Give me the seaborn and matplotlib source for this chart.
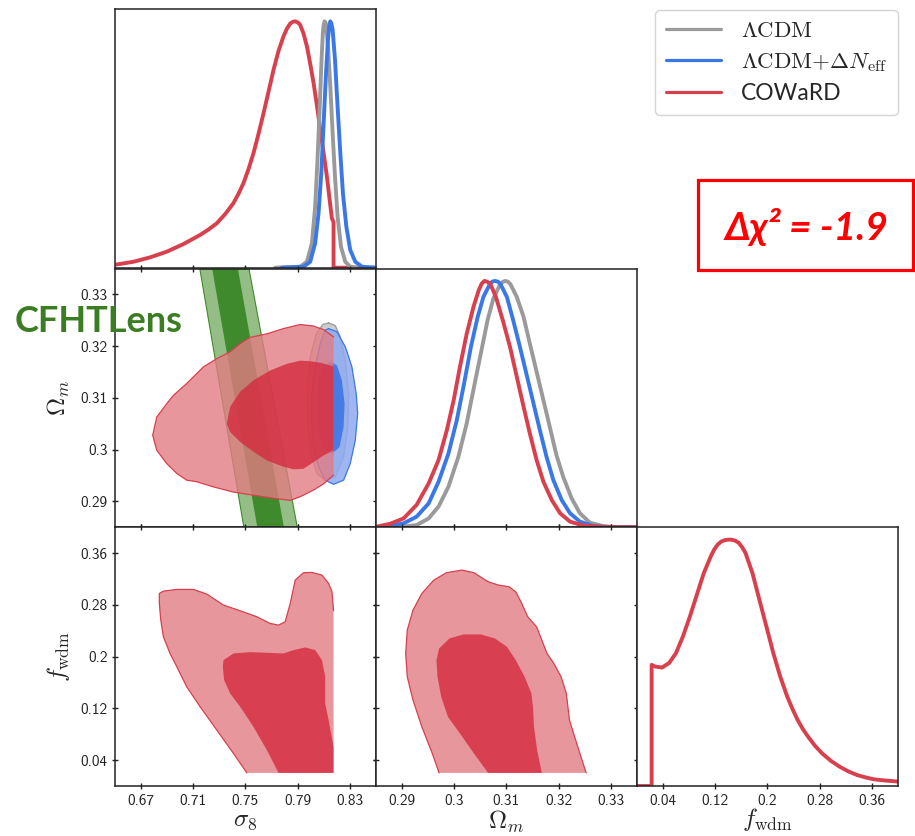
import matplotlib
matplotlib.use("Agg")
import matplotlib.pyplot as plt
import seaborn as sns
from matplotlib.lines import Line2D
from matplotlib.patches import Rectangle

sns.set_theme(style="white")
plt.rcParams["mathtext.fontset"] = "cm"
plt.rcParams["font.family"] = ["Lato", "DejaVu Sans"]
plt.rcParams["axes.edgecolor"] = "#222222"
plt.rcParams["axes.linewidth"] = 1.1

# ---------------------------------------------------------------- models
LEGEND_LABELS = [r"$\Lambda{\rm CDM}$",
                 r"$\Lambda{\rm CDM}{+}\Delta N_{\rm eff}$",
                 "COWaRD"]
C_LCDM = "#9a9a9a"
C_NEFF = "#3a78e8"
C_COWARD = "#d8404e"

# ---------------------------------------------------------------- axes ranges / ticks
S8_RANGE = (0.65, 0.85)
OM_RANGE = (0.285, 0.335)
FW_RANGE = (0.0, 0.40)
S8_TICKS = [0.67, 0.71, 0.75, 0.79, 0.83]
OM_TICKS = [0.29, 0.30, 0.31, 0.32, 0.33]
FW_TICKS = [0.04, 0.12, 0.20, 0.28, 0.36]
S8_TICKLABELS = ["0.67", "0.71", "0.75", "0.79", "0.83"]
OM_TICKLABELS = ["0.29", "0.3", "0.31", "0.32", "0.33"]
FW_TICKLABELS = ["0.04", "0.12", "0.2", "0.28", "0.36"]

# prior edges of the COWaRD chain
S8_PRIOR_MAX = 0.8176
FW_PRIOR_MIN = 0.0203

# ---------------------------------------------------------------- 1D marginals
# sigma_8
S8_LCDM = [0.7728, 0.7920, 0.7972, 0.8010, 0.8035, 0.8053, 0.8069, 0.8084, 0.8094,
           0.8100, 0.8107, 0.8114, 0.8120, 0.8135, 0.8151, 0.8169, 0.8187, 0.8207,
           0.8233, 0.8266, 0.8304, 0.8356]
P_S8_LCDM = [0.0, 0.004, 0.024, 0.099, 0.248, 0.438, 0.641, 0.844, 0.953,
             0.985, 1.0, 0.995, 0.986, 0.886, 0.736, 0.547, 0.370, 0.207,
             0.085, 0.024, 0.004, 0.0]
S8_NEFF = [0.7780, 0.7946, 0.7997, 0.8035, 0.8061, 0.8082, 0.8099, 0.8117, 0.8133,
           0.8142, 0.8151, 0.8160, 0.8169, 0.8187, 0.8207, 0.8228, 0.8248, 0.8274,
           0.8304, 0.8343, 0.8394, 0.8496]
P_S8_NEFF = [0.0, 0.004, 0.024, 0.099, 0.221, 0.384, 0.575, 0.776, 0.925,
             0.975, 1.0, 0.99, 0.966, 0.846, 0.654, 0.465, 0.302, 0.167,
             0.072, 0.024, 0.004, 0.0]
S8_COWARD = [0.6500, 0.6641, 0.6769, 0.6897, 0.7025, 0.7153, 0.7217, 0.7280, 0.7344,
             0.7408, 0.7447, 0.7485, 0.7524, 0.7562, 0.7600, 0.7639, 0.7678, 0.7716,
             0.7754, 0.7792, 0.7818, 0.7844, 0.7863, 0.7882, 0.7901, 0.7920, 0.7946,
             0.7972, 0.7997, 0.8023, 0.8049, 0.8074, 0.8100, 0.8125, 0.8144, 0.8163,
             0.8176, 0.8176, 0.8500]
P_S8_COWARD = [0.012, 0.024, 0.042, 0.065, 0.096, 0.133, 0.155, 0.180, 0.217,
               0.262, 0.300, 0.343, 0.400, 0.465, 0.542, 0.627, 0.716, 0.804,
               0.880, 0.939, 0.970, 0.991, 0.998, 1.0, 0.996, 0.986, 0.950,
               0.898, 0.828, 0.749, 0.656, 0.560, 0.465, 0.370, 0.285, 0.201,
               0.185, 0.0, 0.0]

# Omega_m
OM_LCDM = [0.2903, 0.2928, 0.2951, 0.2970, 0.2989, 0.3008, 0.3024, 0.3038, 0.3051,
           0.3064, 0.3075, 0.3087, 0.3093, 0.3098, 0.3103, 0.3108, 0.3120, 0.3133,
           0.3145, 0.3158, 0.3171, 0.3184, 0.3196, 0.3209, 0.3225, 0.3241, 0.3260,
           0.3286, 0.3318, 0.3350]
P_OM_LCDM = [0.003, 0.009, 0.036, 0.084, 0.165, 0.286, 0.422, 0.570, 0.705,
             0.841, 0.928, 0.982, 0.996, 1.0, 0.997, 0.986, 0.935, 0.854,
             0.746, 0.631, 0.516, 0.401, 0.293, 0.205, 0.118, 0.057, 0.019,
             0.004, 0.0, 0.0]
OM_NEFF = [0.2871, 0.2903, 0.2928, 0.2951, 0.2970, 0.2989, 0.3005, 0.3019, 0.3032,
           0.3045, 0.3056, 0.3068, 0.3073, 0.3078, 0.3084, 0.3089, 0.3101, 0.3113,
           0.3126, 0.3139, 0.3152, 0.3165, 0.3177, 0.3190, 0.3206, 0.3222, 0.3241,
           0.3267, 0.3299, 0.3350]
P_OM_NEFF = [0.003, 0.016, 0.043, 0.097, 0.185, 0.300, 0.435, 0.584, 0.732,
             0.854, 0.935, 0.986, 0.997, 1.0, 0.997, 0.986, 0.935, 0.841,
             0.732, 0.618, 0.503, 0.388, 0.286, 0.192, 0.111, 0.057, 0.023,
             0.005, 0.001, 0.0]
OM_COWARD = [0.2852, 0.2877, 0.2903, 0.2928, 0.2951, 0.2970, 0.2986, 0.2999, 0.3011,
             0.3024, 0.3037, 0.3047, 0.3053, 0.3058, 0.3063, 0.3069, 0.3080, 0.3094,
             0.3107, 0.3120, 0.3133, 0.3145, 0.3158, 0.3171, 0.3187, 0.3203, 0.3222,
             0.3247, 0.3286, 0.3350]
P_OM_COWARD = [0.003, 0.014, 0.036, 0.091, 0.178, 0.273, 0.395, 0.516, 0.651,
               0.786, 0.895, 0.962, 0.990, 1.0, 0.997, 0.989, 0.935, 0.834,
               0.732, 0.611, 0.489, 0.381, 0.273, 0.185, 0.111, 0.057, 0.023,
               0.007, 0.001, 0.0]

# f_wdm (COWaRD only)
FW_COWARD = [0.0, 0.0224, 0.0224, 0.0277, 0.0384, 0.0491, 0.0597, 0.0704, 0.0811,
             0.0917, 0.1024, 0.1131, 0.1184, 0.1237, 0.1291, 0.1344, 0.1398, 0.1451,
             0.1504, 0.1557, 0.1611, 0.1664, 0.1771, 0.1877, 0.1984, 0.2091, 0.2197,
             0.2304, 0.2384, 0.2464, 0.2544, 0.2624, 0.2731, 0.2837, 0.2970, 0.3104,
             0.3237, 0.3371, 0.3504, 0.3637, 0.3819, 0.4000]
P_FW_COWARD = [0.0, 0.0, 0.492, 0.485, 0.481, 0.499, 0.539, 0.607, 0.688,
               0.776, 0.864, 0.932, 0.960, 0.980, 0.992, 0.998, 1.0, 1.0,
               0.996, 0.988, 0.970, 0.946, 0.864, 0.756, 0.648, 0.539, 0.444,
               0.363, 0.313, 0.268, 0.231, 0.200, 0.163, 0.133, 0.103, 0.079,
               0.060, 0.045, 0.035, 0.027, 0.022, 0.018]

# ---------------------------------------------------------------- 2D contours (68% / 95%)
# sigma_8 - Omega_m
S8OM_LCDM_95_S8 = [0.8138, 0.8189, 0.8228, 0.8266, 0.8292, 0.8286, 0.8253, 0.8189,
                   0.8112, 0.8048, 0.8002, 0.7977, 0.7977, 0.7997, 0.8043, 0.8094]
S8OM_LCDM_95_OM = [0.3245, 0.3240, 0.3218, 0.3173, 0.3108, 0.3044, 0.2986, 0.2947,
                   0.2941, 0.2954, 0.2992, 0.3057, 0.3121, 0.3179, 0.3224, 0.3242]
S8OM_LCDM_68_S8 = [0.8125, 0.8176, 0.8215, 0.8228, 0.8215, 0.8176, 0.8125, 0.8074,
                   0.8043, 0.8036, 0.8048, 0.8079]
S8OM_LCDM_68_OM = [0.3179, 0.3173, 0.3141, 0.3089, 0.3038, 0.3005, 0.2996, 0.3009,
                   0.3050, 0.3096, 0.3141, 0.3170]
S8OM_NEFF_95_S8 = [0.8138, 0.8202, 0.8266, 0.8317, 0.8350, 0.8361, 0.8343, 0.8304,
                   0.8253, 0.8176, 0.8112, 0.8061, 0.8023, 0.8005, 0.8010, 0.8036,
                   0.8074, 0.8112]
S8OM_NEFF_95_OM = [0.3234, 0.3228, 0.3199, 0.3160, 0.3108, 0.3070, 0.3018, 0.2973,
                   0.2941, 0.2933, 0.2941, 0.2967, 0.3005, 0.3057, 0.3108, 0.3160,
                   0.3205, 0.3231]
S8OM_NEFF_68_S8 = [0.8151, 0.8202, 0.8240, 0.8261, 0.8253, 0.8222, 0.8164, 0.8100,
                   0.8061, 0.8048, 0.8061, 0.8100]
S8OM_NEFF_68_OM = [0.3170, 0.3163, 0.3134, 0.3089, 0.3044, 0.3005, 0.2992, 0.3005,
                   0.3044, 0.3089, 0.3131, 0.3160]
S8OM_COWARD_95_S8 = [0.8176, 0.8100, 0.8023, 0.7920, 0.7844, 0.7716, 0.7562, 0.7409,
                     0.7255, 0.7127, 0.7050, 0.6974, 0.6897, 0.6820, 0.6789, 0.6820,
                     0.6897, 0.6948, 0.7050, 0.7178, 0.7281, 0.7383, 0.7460, 0.7536,
                     0.7665, 0.7792, 0.7920, 0.8023, 0.8100, 0.8176]
S8OM_COWARD_95_OM = [0.2951, 0.2934, 0.2922, 0.2909, 0.2902, 0.2906, 0.2912, 0.2918,
                     0.2928, 0.2938, 0.2941, 0.2954, 0.2973, 0.2999, 0.3028, 0.3063,
                     0.3089, 0.3105, 0.3128, 0.3160, 0.3176, 0.3189, 0.3205, 0.3217,
                     0.3224, 0.3234, 0.3242, 0.3239, 0.3232, 0.3218]
S8OM_COWARD_68_S8 = [0.7357, 0.7383, 0.7460, 0.7562, 0.7690, 0.7818, 0.7920, 0.7997,
                     0.8074, 0.8176, 0.8176, 0.8100, 0.8023, 0.7946, 0.7869, 0.7792,
                     0.7665, 0.7562, 0.7460, 0.7383]
S8OM_COWARD_68_OM = [0.3050, 0.3083, 0.3112, 0.3134, 0.3153, 0.3166, 0.3172, 0.3171,
                     0.3168, 0.3161, 0.2999, 0.2989, 0.2976, 0.2963, 0.2962, 0.2967,
                     0.2979, 0.2996, 0.3015, 0.3034]

# CFHTLens lensing band (edges in sigma_8 at the two Omega_m ends)
BAND_OM = [0.285, 0.335]
BAND_95_LO = [0.7485, 0.7147]
BAND_95_HI = [0.7895, 0.7524]
BAND_68_LO = [0.7588, 0.7242]
BAND_68_HI = [0.7792, 0.7439]

# sigma_8 - f_wdm
S8FW_COWARD_95_S8 = [0.7511, 0.7409, 0.7281, 0.7153, 0.7050, 0.6974, 0.6922, 0.6871,
                     0.6851, 0.6840, 0.6840, 0.6871, 0.6974, 0.7101, 0.7204, 0.7332,
                     0.7460, 0.7588, 0.7690, 0.7754, 0.7805, 0.7844, 0.7882, 0.7946,
                     0.8010, 0.8087, 0.8138, 0.8164, 0.8176]
S8FW_COWARD_95_FW = [0.0203, 0.0502, 0.0864, 0.1225, 0.1534, 0.1844, 0.2050, 0.2308,
                     0.2566, 0.2824, 0.2978, 0.3014, 0.3040, 0.3040, 0.2968, 0.2798,
                     0.2710, 0.2617, 0.2514, 0.2488, 0.2540, 0.2824, 0.3185, 0.3298,
                     0.3303, 0.3262, 0.3133, 0.3004, 0.2710]
S8FW_COWARD_68_S8 = [0.7332, 0.7409, 0.7537, 0.7665, 0.7792, 0.7869, 0.7959, 0.8036,
                     0.8087, 0.8112, 0.8112, 0.8138, 0.8176, 0.8176, 0.7754, 0.7665,
                     0.7562, 0.7460, 0.7383, 0.7337, 0.7327]
S8FW_COWARD_68_FW = [0.1947, 0.2050, 0.2070, 0.2060, 0.2050, 0.2101, 0.2143, 0.2101,
                     0.1947, 0.1689, 0.1276, 0.1018, 0.0606, 0.0203, 0.0203, 0.0554,
                     0.0915, 0.1225, 0.1431, 0.1637, 0.1844]

# Omega_m - f_wdm
OMFW_COWARD_95_OM = [0.2971, 0.2958, 0.2938, 0.2921, 0.2910, 0.2907, 0.2910, 0.2921,
                     0.2938, 0.2961, 0.2985, 0.3015, 0.3038, 0.3065, 0.3085, 0.3105,
                     0.3118, 0.3128, 0.3141, 0.3158, 0.3168, 0.3178, 0.3191, 0.3205,
                     0.3215, 0.3218, 0.3221, 0.3231, 0.3241, 0.3253]
OMFW_COWARD_95_FW = [0.0203, 0.0502, 0.0915, 0.1328, 0.1689, 0.2050, 0.2411, 0.2720,
                     0.2978, 0.3185, 0.3298, 0.3339, 0.3298, 0.3159, 0.3107, 0.3081,
                     0.3004, 0.2849, 0.2617, 0.2462, 0.2256, 0.2050, 0.1895, 0.1689,
                     0.1431, 0.1225, 0.1018, 0.0760, 0.0502, 0.0203]
OMFW_COWARD_68_OM = [0.3065, 0.3038, 0.3011, 0.2988, 0.2975, 0.2968, 0.2966, 0.2971,
                     0.2991, 0.3018, 0.3051, 0.3078, 0.3101, 0.3118, 0.3135, 0.3148,
                     0.3151, 0.3153, 0.3159, 0.3168]
OMFW_COWARD_68_FW = [0.0203, 0.0502, 0.0812, 0.1070, 0.1379, 0.1689, 0.1947, 0.2127,
                     0.2282, 0.2344, 0.2344, 0.2282, 0.2153, 0.1947, 0.1689, 0.1431,
                     0.1225, 0.0915, 0.0554, 0.0203]

# fill styles for the contour levels
FILL_LCDM = ("#c4c4c4", "#9c9c9c")
FILL_NEFF = ("#8eaaf0", "#3a72e2")
FILL_COWARD = ("#e27c82", "#d52a3e")
FILL_BAND = ("#94be86", "#3f8a2d")

# ---------------------------------------------------------------- figure
fig = plt.figure(figsize=(9.15, 8.36), dpi=100)
COL_LEFT = [0.1257, 0.4109, 0.6962]
ROW_BOTTOM = [0.6798, 0.3693, 0.0598]
PANEL_W, PANEL_H = 0.2850, 0.3094

axes = {}
for i in range(3):
    for j in range(i + 1):
        axes[i, j] = fig.add_axes([COL_LEFT[j], ROW_BOTTOM[i], PANEL_W, PANEL_H])

ranges = [S8_RANGE, OM_RANGE, FW_RANGE]
ticks = [S8_TICKS, OM_TICKS, FW_TICKS]
ticklabels = [S8_TICKLABELS, OM_TICKLABELS, FW_TICKLABELS]

for (i, j), ax in axes.items():
    ax.set_xlim(*ranges[j])
    ax.set_xticks(ticks[j])
    if i == 2:
        ax.set_xticklabels(ticklabels[j])
    else:
        ax.set_xticklabels([])
    if i == j:
        ax.set_ylim(0, 1.05)
        ax.set_yticks([])
        ax.tick_params(axis="x", direction="inout", length=5, width=1,
                       bottom=True, top=False, labelsize=11, pad=3,
                       labelfontfamily="cmss10", colors="#222222")
    else:
        ax.set_ylim(*ranges[i])
        ax.set_yticks(ticks[i])
        if j == 0:
            ax.set_yticklabels(ticklabels[i])
        else:
            ax.set_yticklabels([])
        ax.tick_params(direction="inout", length=5, width=1, bottom=True, top=True,
                       left=True, right=True, labelsize=11, pad=3,
                       labelfontfamily="cmss10", colors="#222222")
    for sp in ax.spines.values():
        sp.set_visible(True)
        sp.set_color("#222222")


def curve(ax, xs, ys, color, lw=2.8):
    sns.lineplot(x=xs, y=ys, ax=ax, color=color, linewidth=lw,
                 sort=False, estimator=None, legend=False,
                 solid_joinstyle="round", solid_capstyle="round")


def contour_pair(ax, out_x, out_y, in_x, in_y, fills, edge, alpha, closed=True,
                 extra_out=None):
    ox, oy = list(out_x), list(out_y)
    if extra_out is not None:
        ox.append(extra_out[0])
        oy.append(extra_out[1])
    ax.fill(ox, oy, color=fills[0], alpha=alpha, lw=0, zorder=2)
    ax.fill(in_x, in_y, color=fills[1], alpha=alpha, lw=0, zorder=2)
    lx, ly = list(out_x), list(out_y)
    if closed:
        lx.append(out_x[0])
        ly.append(out_y[0])
    curve(ax, lx, ly, edge, lw=0.9)


# diagonal: 1D marginals
ax = axes[0, 0]
curve(ax, S8_COWARD, P_S8_COWARD, C_COWARD)
curve(ax, S8_LCDM, P_S8_LCDM, C_LCDM)
curve(ax, S8_NEFF, P_S8_NEFF, C_NEFF)

ax = axes[1, 1]
curve(ax, OM_LCDM, P_OM_LCDM, C_LCDM)
curve(ax, OM_NEFF, P_OM_NEFF, C_NEFF)
curve(ax, OM_COWARD, P_OM_COWARD, C_COWARD)

ax = axes[2, 2]
curve(ax, FW_COWARD, P_FW_COWARD, C_COWARD)

# sigma_8 - Omega_m with the CFHTLens band
ax = axes[1, 0]
ax.fill_betweenx(BAND_OM, BAND_95_LO, BAND_95_HI, color=FILL_BAND[0],
                 lw=0.8, edgecolor=FILL_BAND[1], zorder=1)
ax.fill_betweenx(BAND_OM, BAND_68_LO, BAND_68_HI, color=FILL_BAND[1], lw=0, zorder=1)
contour_pair(ax, S8OM_LCDM_95_S8, S8OM_LCDM_95_OM, S8OM_LCDM_68_S8, S8OM_LCDM_68_OM,
             FILL_LCDM, C_LCDM, 0.85)
contour_pair(ax, S8OM_NEFF_95_S8, S8OM_NEFF_95_OM, S8OM_NEFF_68_S8, S8OM_NEFF_68_OM,
             FILL_NEFF, C_NEFF, 0.85)
contour_pair(ax, S8OM_COWARD_95_S8, S8OM_COWARD_95_OM, S8OM_COWARD_68_S8,
             S8OM_COWARD_68_OM, FILL_COWARD, C_COWARD, 0.8, closed=False)

# sigma_8 - f_wdm
ax = axes[2, 0]
contour_pair(ax, S8FW_COWARD_95_S8, S8FW_COWARD_95_FW, S8FW_COWARD_68_S8,
             S8FW_COWARD_68_FW, FILL_COWARD, C_COWARD, 0.8, closed=False,
             extra_out=(S8_PRIOR_MAX, FW_PRIOR_MIN))

# Omega_m - f_wdm
ax = axes[2, 1]
contour_pair(ax, OMFW_COWARD_95_OM, OMFW_COWARD_95_FW, OMFW_COWARD_68_OM,
             OMFW_COWARD_68_FW, FILL_COWARD, C_COWARD, 0.8, closed=False)

# axis labels
axes[2, 0].set_xlabel(r"$\sigma_8$", fontsize=18, labelpad=1)
axes[2, 1].set_xlabel(r"$\Omega_m$", fontsize=18, labelpad=1)
axes[2, 2].set_xlabel(r"$f_{\rm wdm}$", fontsize=18, labelpad=-1)
axes[1, 0].set_ylabel(r"$\Omega_m$", fontsize=18, labelpad=6)
axes[2, 0].set_ylabel(r"$f_{\rm wdm}$", fontsize=18, labelpad=6)

# legend
handles = [Line2D([], [], color=c, lw=2.3) for c in (C_LCDM, C_NEFF, C_COWARD)]
fig.legend(handles, LEGEND_LABELS, loc="upper right",
           bbox_to_anchor=(0.981, 0.988), borderaxespad=0.0,
           prop={"family": ["Lato"], "size": 16.5},
           handlelength=2.4, handletextpad=0.9, labelspacing=0.42, borderpad=0.45,
           frameon=True, fancybox=True, framealpha=1, edgecolor="#d4d4d4")

# annotations
fig.text(0.016, 0.603, "CFHTLens", color="#3a7d22", fontsize=26,
         fontweight="bold", family=["Lato", "DejaVu Sans"], ha="left", va="baseline")
fig.add_artist(Rectangle((0.763, 0.677), 0.235, 0.108, transform=fig.transFigure,
                         fill=False, edgecolor="#ff0000", linewidth=2.3))
fig.text(0.881, 0.729, "\u0394\u03c7\u00b2 = -1.9", color="#ff0000", fontsize=28,
         fontweight="bold", fontstyle="italic", family=["Lato", "DejaVu Sans"],
         ha="center", va="center")

fig.savefig("out.png", dpi=100)
